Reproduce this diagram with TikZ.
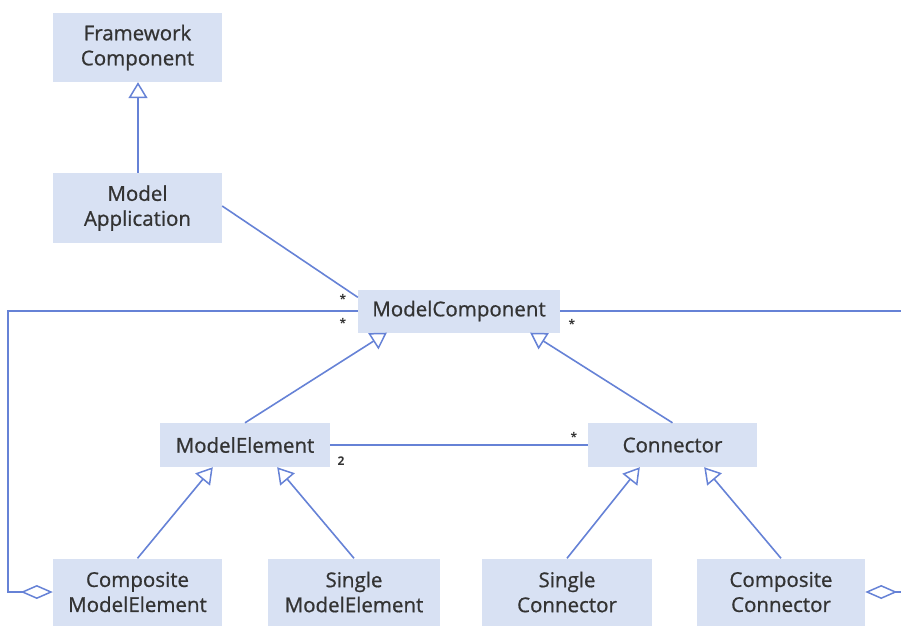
\documentclass[tikz,border=0pt]{standalone}
\usepackage{fontspec}
\setmainfont{Open Sans}
\newfontfamily\classfont{Open Sans}[FakeBold=0.8]
\usetikzlibrary{arrows.meta}
\definecolor{boxfill}{HTML}{D8E1F3}
\definecolor{linkblue}{HTML}{6682D6}
\definecolor{labeltext}{HTML}{333333}
\begin{document}
\begin{tikzpicture}[x=1pt,y=-1pt,
  classbox/.style={fill=boxfill, draw=none, align=center, inner sep=0pt,
    text=labeltext, font=\classfont\fontsize{20.5}{25}\selectfont},
  link/.style={draw=linkblue, line width=1.6pt},
  inherit/.style={link, -{Triangle[open, length=16pt, width=19pt, line width=1.5pt]}},
  aggregate/.style={link, {Diamond[open, length=32pt, width=14pt, line width=1.5pt]}-},
  mult/.style={text=labeltext, font=\fontsize{12}{12}\selectfont\bfseries, inner sep=0pt}]
\useasboundingbox (0,0) rectangle (901,625);

% classes
\node[classbox, minimum width=169pt, minimum height=69pt] (fc) at (137.5,47.5) {Framework\\Component};
\node[classbox, minimum width=169pt, minimum height=70pt] (ma) at (137.5,208) {Model\\Application};
\node[classbox, minimum width=202pt, minimum height=43pt] (mc) at (459,311) {ModelComponent};
\node[classbox, minimum width=170pt, minimum height=44pt] (me) at (245,445) {ModelElement};
\node[classbox, minimum width=169pt, minimum height=44pt] (cn) at (672.5,445) {Connector};
\node[classbox, minimum width=169pt, minimum height=67pt] (cme) at (137.5,592) {Composite\\ModelElement};
\node[classbox, minimum width=172pt, minimum height=67pt] (sme) at (354,592) {Single\\ModelElement};
\node[classbox, minimum width=170pt, minimum height=67pt] (sc) at (567,592) {Single\\Connector};
\node[classbox, minimum width=168pt, minimum height=67pt] (cc) at (781,592) {Composite\\Connector};

% free ends at the right border
\coordinate (rtop) at (901,311);
\coordinate (rbot) at (901,592);

% generalizations
\draw[inherit] ([xshift=0.5pt]ma.north) -- ([xshift=0.5pt]fc.south);
\draw[inherit] (me.north) -- ([xshift=29pt]mc.south west);
\draw[inherit] (cn.north) -- ([xshift=-30pt]mc.south east);
\draw[inherit] (cme.north) -- ([xshift=53pt]me.south west);
\draw[inherit] (sme.north) -- ([xshift=-53pt]me.south east);
\draw[inherit] (sc.north) -- ([xshift=52pt]cn.south west);
\draw[inherit] (cc.north) -- ([xshift=-53pt]cn.south east);

% associations
\draw[link] ([yshift=2pt]ma.east) -- ([yshift=-8pt]mc.north west);
\draw[link] (me.east) -- (cn.west);
\draw[link] (mc.east) -- (rtop);
\draw[aggregate] (cme.west) -- ++(-45,0) |- (mc.west);
\draw[aggregate] (cc.east) -- (rbot);

% multiplicities
\node[mult] (m1) at (343,299) {*};
\node[mult] (m2) at (343,323) {*};
\node[mult] (m3) at (572,324) {*};
\node[mult] (m4) at (574,437) {*};
\node[mult] (m5) at (341,461) {2};
\end{tikzpicture}
\end{document}
